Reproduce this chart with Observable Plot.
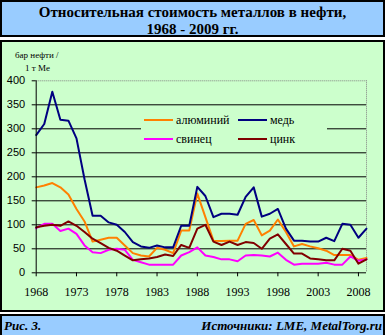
<!DOCTYPE html>
<html><head><meta charset="utf-8">
<script src="https://cdn.jsdelivr.net/npm/d3@7"></script>
<script src="https://cdn.jsdelivr.net/npm/@observablehq/plot@0.6"></script>
<style>
body{margin:0;width:385px;height:335px;overflow:hidden;background:#fff;position:relative;font-family:"Liberation Serif","Times New Roman",serif;color:#000;}
.box{position:absolute;left:0;width:385px;box-sizing:border-box;border:2px solid #000;}
#title{top:0;height:37px;background:#99CCFF;text-align:center;font-weight:bold;font-size:15px;line-height:17px;padding-top:2px;}
#panel{top:40px;height:272px;background:#CCFFCC;}
#footer{top:314px;height:23px;background:#99CCFF;font-weight:bold;font-style:italic;font-size:13px;}
#footer .l{position:absolute;left:2px;top:2px;}
#footer .r{position:absolute;right:1px;top:2px;}
#chart{position:absolute;left:0;top:40px;}
#ylab{position:absolute;left:15px;top:49px;font-size:9px;line-height:13px;font-family:"Liberation Serif",serif;}
#ylab div:nth-child(2){padding-left:10px;}
#legend{position:absolute;left:141px;top:108px;width:186px;height:42px;background:#CCFFCC;}
.item{position:absolute;font-size:12px;line-height:14px;white-space:nowrap;font-family:"Liberation Serif","Times New Roman",serif;}
.sw{display:inline-block;width:29px;height:2px;vertical-align:middle;margin-right:3px;position:relative;top:-1px;}
</style></head>
<body>
<div id="title" class="box">Относительная стоимость металлов в нефти,<br>1968 - 2009 гг.</div>
<div id="panel" class="box"></div>
<div id="footer" class="box"><span class="l">Рис. 3.</span><span class="r">Источники: LME, MetalTorg.ru</span></div>
<div id="chart"></div>
<div id="ylab"><div>бар нефти /</div><div>1 т Me</div></div>
<div id="legend"></div>
<script>
const years = d3.range(1968, 2010);
const seriesNames = ["алюминий", "медь", "свинец", "цинк"];
const seriesColors = ["#FF8000", "#000080", "#FF00FF", "#800000"];
const aluminium = [178,182,187,178,163,133,107,65,69,73,73,57,41,36,34,52,48,41,88,88,165,116,67,66,67,67,102,110,78,88,111,85,55,60,55,51,46,37,37,37,27,31];
const copper = [287,310,377,319,317,280,195,119,119,105,100,85,64,55,52,57,53,53,98,98,179,160,116,123,123,121,158,178,117,123,133,92,67,67,65,65,73,66,102,100,73,92];
const lead = [93,102,102,87,92,81,57,43,41,48,50,48,27,22,17,17,17,17,36,43,53,36,33,28,28,24,36,37,36,34,42,27,17,19,19,19,21,17,17,34,25,28];
const zinc = [95,98,100,98,107,98,85,71,62,52,46,36,26,28,30,33,38,35,58,52,92,100,65,58,65,58,64,62,50,71,80,60,40,40,30,28,26,26,50,46,19,28];
const xTicks = [1968,1973,1978,1983,1988,1993,1998,2003,2008];
const yTicks = [0,50,100,150,200,250,300,350,400];
const gridValues = [50,100,150,200,250,300,350];

const allSeries = [aluminium, copper, lead, zinc];
const data = [];
allSeries.forEach((arr, s) => arr.forEach((v, i) => data.push({year: years[i], value: v, metal: seriesNames[s]})));

const chart = Plot.plot({
  width: 385, height: 272,
  marginLeft: 35.7, marginRight: 19, marginTop: 40.3, marginBottom: 39.7,
  style: {background: "transparent", overflow: "visible"},
  x: {type: "linear", domain: [1968, 2009], label: null},
  y: {domain: [0, 400], label: null},
  color: {domain: seriesNames, range: seriesColors},
  marks: [
    Plot.ruleY(gridValues, {stroke: "#000", strokeWidth: 1}),
    Plot.ruleY([400], {stroke: "#808080", strokeWidth: 1, strokeDasharray: "1,1"}),
    Plot.ruleX([2009], {stroke: "#808080", strokeWidth: 1, strokeDasharray: "1,1"}),
    Plot.line(data, {x: "year", y: "value", z: "metal", stroke: "metal", strokeWidth: 2}),
    Plot.ruleX([1968], {stroke: "#000", strokeWidth: 1}),
    Plot.ruleY([0], {stroke: "#000", strokeWidth: 1}),
    Plot.axisX({ticks: xTicks, tickFormat: d => String(d), tickSize: 4, tickPadding: 11, fontSize: 12, fontFamily: "Liberation Serif", stroke: "#000", color: "#000", label: null}),
    Plot.axisY({ticks: yTicks, tickFormat: d => String(d), tickSize: 4, tickPadding: 7, fontSize: 11, fontFamily: "Liberation Sans", stroke: "#000", color: "#000", label: null})
  ]
});
document.getElementById("chart").appendChild(chart);

const legend = document.getElementById("legend");
const pos = [[3,5],[97,5],[3,24],[97,24]];
seriesNames.forEach((n, i) => {
  const d = document.createElement("div");
  d.className = "item";
  d.style.left = pos[i][0] + "px";
  d.style.top = pos[i][1] + "px";
  d.innerHTML = `<span class="sw" style="background:${seriesColors[i]}"></span>${n}`;
  legend.appendChild(d);
});
</script>
</body></html>
